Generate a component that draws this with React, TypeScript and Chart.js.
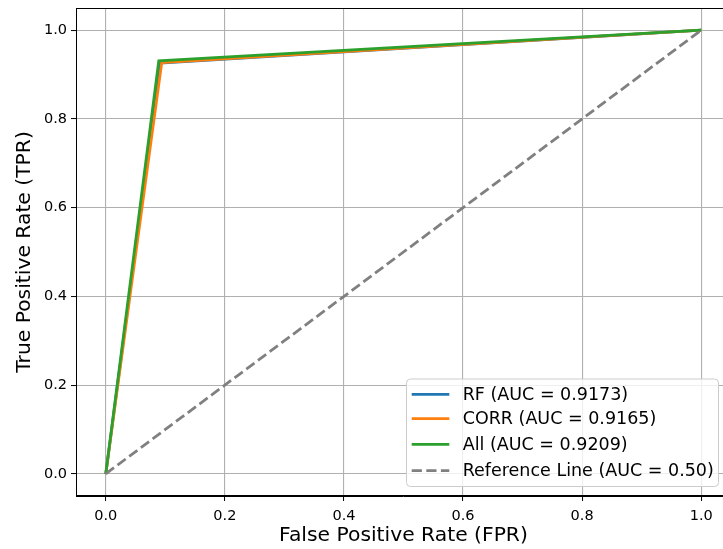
import React, { useEffect, useRef } from "react";
import { Chart, registerables } from "chart.js";

Chart.register(...registerables);

const seriesNames = ["RF (AUC = 0.9173)", "CORR (AUC = 0.9165)", "All (AUC = 0.9209)", "Reference Line (AUC = 0.50)"];
const seriesColors = ["#1f77b4", "#ff7f0e", "#2ca02c", "#808080"];
const rfFpr = [0, 0.091, 1];
const rfTpr = [0, 0.926, 1];
const corrFpr = [0, 0.094, 1];
const corrTpr = [0, 0.927, 1];
const allFpr = [0, 0.089, 1];
const allTpr = [0, 0.931, 1];
const refFpr = [0, 1];
const refTpr = [0, 1];
const xTicks = [0, 0.2, 0.4, 0.6, 0.8, 1.0];
const yTicks = [0, 0.2, 0.4, 0.6, 0.8, 1.0];

const FONT = "'DejaVu Sans', sans-serif";
const LW = 2.8;
const DASH = [10.2, 4.4];

const zip = (xs: number[], ys: number[]) => xs.map((x, i) => ({ x, y: ys[i] }));

const legendPlugin = {
  id: "mplLegend",
  afterDraw(chart: any) {
    const ctx = chart.ctx;
    const ca = chart.chartArea;
    const boxL = 406.5;
    const boxR = 718.5;
    const boxB = ca.bottom - 9.5;
    const boxT = boxB - 107.5;
    ctx.save();
    const r = 4;
    ctx.beginPath();
    ctx.moveTo(boxL + r, boxT);
    ctx.lineTo(boxR - r, boxT);
    ctx.quadraticCurveTo(boxR, boxT, boxR, boxT + r);
    ctx.lineTo(boxR, boxB - r);
    ctx.quadraticCurveTo(boxR, boxB, boxR - r, boxB);
    ctx.lineTo(boxL + r, boxB);
    ctx.quadraticCurveTo(boxL, boxB, boxL, boxB - r);
    ctx.lineTo(boxL, boxT + r);
    ctx.quadraticCurveTo(boxL, boxT, boxL + r, boxT);
    ctx.closePath();
    ctx.fillStyle = "rgba(255,255,255,0.8)";
    ctx.fill();
    ctx.strokeStyle = "#cccccc";
    ctx.lineWidth = 1;
    ctx.stroke();
    ctx.font = `17.5px ${FONT}`;
    ctx.textBaseline = "middle";
    ctx.textAlign = "left";
    const rows = [15.3, 39.6, 65.3, 91.7];
    seriesNames.forEach((name, i) => {
      const y = boxT + rows[i];
      ctx.beginPath();
      ctx.strokeStyle = seriesColors[i];
      ctx.lineWidth = LW;
      ctx.setLineDash(i === 3 ? DASH : []);
      ctx.moveTo(411.7, y);
      ctx.lineTo(449.3, y);
      ctx.stroke();
      ctx.setLineDash([]);
      ctx.fillStyle = "#000";
      ctx.fillText(name, 462.7, y + 1);
    });
    ctx.restore();
  },
};

const framePlugin = {
  id: "frame",
  afterDatasetsDraw(chart: any) {
    const ctx = chart.ctx;
    const ca = chart.chartArea;
    ctx.save();
    ctx.strokeStyle = "#000";
    ctx.lineWidth = 1;
    ctx.strokeRect(Math.round(ca.left) + 0.5, Math.round(ca.top) + 0.5, ca.right - ca.left - 1, ca.bottom - ca.top - 1);
    ctx.restore();
  },
};

export default function App() {
  const ref = useRef<HTMLCanvasElement>(null);
  useEffect(() => {
    if (!ref.current) return;
    Chart.defaults.font.family = FONT;
    const mk = (i: number, data: any[], order: number) => ({
      label: seriesNames[i],
      data,
      borderColor: seriesColors[i],
      backgroundColor: seriesColors[i],
      borderWidth: LW,
      pointRadius: 0,
      showLine: true,
      fill: false,
      tension: 0,
      order,
      borderDash: i === 3 ? DASH : [],
    });
    const chart = new Chart(ref.current, {
      type: "scatter",
      data: {
        datasets: [
          mk(0, zip(rfFpr, rfTpr), 3),
          mk(1, zip(corrFpr, corrTpr), 2),
          mk(2, zip(allFpr, allTpr), 1),
          mk(3, zip(refFpr, refTpr), 0),
        ],
      },
      options: {
        animation: false,
        responsive: false,
        devicePixelRatio: 1,
        layout: { padding: { left: 0, right: 9, top: 8, bottom: 0 } },
        plugins: { legend: { display: false }, tooltip: { enabled: false } },
        events: [],
        scales: {
          x: {
            type: "linear",
            min: -0.05,
            max: 1.05,
            afterBuildTicks: (s: any) => {
              s.ticks = xTicks.map((v) => ({ value: v }));
            },
            afterFit: (s: any) => {
              s.height = 53;
              s.paddingLeft = 0;
              s.paddingRight = 0;
              s.paddingTop = 0;
              s.paddingBottom = 0;
            },
            ticks: {
              color: "#000",
              font: { size: 14.5, family: FONT },
              padding: 7,
              callback: (v: any) => Number(v).toFixed(1),
            },
            grid: { color: "#b0b0b0", lineWidth: 1.1, tickColor: "#000", tickLength: 5, tickWidth: 1 },
            border: { color: "#000", width: 1 },
            title: {
              display: true,
              text: "False Positive Rate (FPR)",
              color: "#000",
              font: { size: 20.3, family: FONT },
              padding: { top: 0, bottom: 1 },
            },
          },
          y: {
            type: "linear",
            min: -0.05,
            max: 1.05,
            afterBuildTicks: (s: any) => {
              s.ticks = yTicks.map((v) => ({ value: v }));
            },
            afterFit: (s: any) => {
              s.width = 76;
              s.paddingLeft = 0;
              s.paddingRight = 0;
              s.paddingTop = 0;
              s.paddingBottom = 0;
            },
            ticks: {
              color: "#000",
              font: { size: 14.5, family: FONT },
              padding: 4,
              callback: (v: any) => Number(v).toFixed(1),
            },
            grid: { color: "#b0b0b0", lineWidth: 1.1, tickColor: "#000", tickLength: 5, tickWidth: 1 },
            border: { color: "#000", width: 1 },
            title: {
              display: true,
              text: "True Positive Rate (TPR)",
              color: "#000",
              font: { size: 20.3, family: FONT },
              padding: { top: 13, bottom: 0 },
            },
          },
        },
      },
      plugins: [framePlugin, legendPlugin],
    } as any);
    return () => chart.destroy();
  }, []);
  return (
    <div style={{ position: "fixed", left: 0, top: 0, width: 723, height: 549, overflow: "hidden", background: "#fff" }}>
      <canvas ref={ref} width={740} height={549} style={{ width: 740, height: 549, display: "block" }} />
    </div>
  );
}
